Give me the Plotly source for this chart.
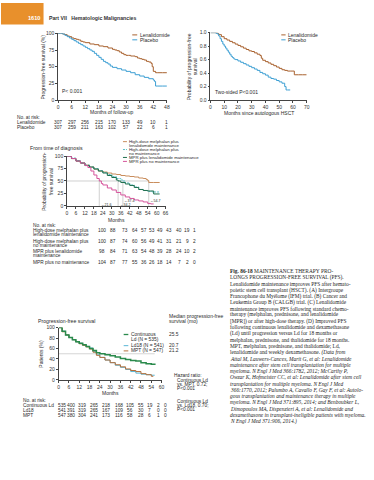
import plotly.graph_objects as go

W, H = 374, 480
SANS = "Liberation Sans, Arial, sans-serif"
SERIF = "Liberation Serif, Times New Roman, serif"

# ---------------- data ----------------
# Panel A (IFM trial) – months vs % progression-free
A_LEN_T = [0, 1, 2, 3, 4, 5, 6, 7, 8, 9, 10, 11, 12, 14, 16, 18, 20, 22, 24, 25, 26, 27, 28, 29, 30, 31, 32, 33, 34, 35, 36, 37, 38, 39, 40, 41, 41.5, 42, 43, 44, 46, 48]
A_LEN_V = [100, 100, 99, 98, 96, 95, 93, 92, 91, 90, 88, 87, 86, 84, 83, 81, 80, 78, 76, 75, 74, 72, 70, 68, 67, 67, 66, 66, 65, 63, 62, 61, 60, 58, 57, 55, 50, 43, 41, 41, 41, 41]
A_PLA_T = [0, 1, 2, 3, 4, 5, 6, 7, 8, 9, 10, 11, 12, 13, 14, 15, 16, 17, 18, 19, 20, 21, 22, 23, 24, 26, 28, 30, 32, 34, 36, 38, 40, 42, 42.5, 43, 44, 46, 48]
A_PLA_V = [100, 100, 99, 97, 95, 93, 91, 89, 87, 85, 83, 81, 79, 77, 75, 73, 70, 67, 64, 61, 58, 56, 54, 51, 49, 47, 45, 43, 41, 38, 36, 34, 32, 30, 28, 21, 21, 21, 21]
A_RISK_MONTHS = [0, 6, 12, 18, 24, 30, 36, 42, 48]
A_RISK_LEN = ["307", "297", "256", "215", "170", "133", "49", "10", "1"]
A_RISK_PLA = ["307", "259", "211", "163", "102", "57", "22", "6", "1"]

# Panel B (CALGB trial) – months vs probability
B_LEN_T = [0, 2, 4, 5, 6, 8, 10, 12, 14, 16, 18, 20, 22, 24, 26, 28, 30, 32, 34, 36, 37, 38, 40, 42, 44, 46, 48, 50, 52, 54, 56, 58, 60, 61, 64, 67, 70]
B_LEN_V = [1.0, 1.0, 1.0, 0.99, 0.97, 0.94, 0.91, 0.89, 0.87, 0.85, 0.83, 0.81, 0.79, 0.77, 0.75, 0.73, 0.72, 0.70, 0.68, 0.66, 0.62, 0.59, 0.57, 0.55, 0.53, 0.51, 0.49, 0.47, 0.45, 0.44, 0.43, 0.43, 0.43, 0.375, 0.375, 0.375, 0.375]
B_PLA_T = [0, 2, 4, 5, 6, 7, 8, 9, 10, 11, 12, 13, 14, 15, 16, 17, 18, 20, 22, 24, 26, 28, 30, 32, 34, 36, 38, 40, 42, 44, 46, 48, 50, 52, 54, 55, 56, 58]
B_PLA_V = [1.0, 1.0, 0.99, 0.98, 0.95, 0.91, 0.87, 0.83, 0.80, 0.77, 0.74, 0.71, 0.68, 0.65, 0.63, 0.61, 0.60, 0.58, 0.56, 0.54, 0.52, 0.50, 0.48, 0.46, 0.44, 0.41, 0.39, 0.37, 0.34, 0.32, 0.31, 0.29, 0.27, 0.25, 0.20, 0.15, 0.15, 0.15]

# Panel C (from time of diagnosis)
C_HDR_T = [0, 3, 6, 9, 12, 15, 18, 21, 24, 27, 30, 33, 36, 39, 42, 45, 48, 51, 53, 54, 54.7, 58, 62]
C_HDR_V = [100, 95, 90, 86, 82, 78, 74, 70, 68, 66, 64, 63, 61, 60, 59, 58, 56, 55, 53, 51, 47, 47, 47]
C_HDN_T = [0, 3, 6, 9, 12, 15, 18, 21, 24, 27, 30, 33, 36, 37.4, 39, 42, 45, 48, 51, 54, 57, 60, 62]
C_HDN_V = [100, 96, 91, 86, 82, 78, 75, 71, 67, 63, 59, 55, 52, 50, 46, 42, 38, 33, 31, 29, 28, 28, 28]
C_MPRR_T = [0, 3, 6, 9, 12, 15, 18, 21, 24, 27, 30, 33, 34.2, 36, 39, 42, 45, 48, 51, 54, 56, 58, 62]
C_MPRR_V = [100, 95, 90, 86, 81, 78, 74, 70, 66, 61, 57, 52, 50, 47, 44, 41, 37, 33, 31, 30, 30, 24, 24]
C_MPRN_T = [0, 3, 6, 9, 12, 14, 16, 18, 20, 21.6, 23, 24, 27, 30, 33, 36, 39, 42, 45, 48, 51, 54, 56, 58]
C_MPRN_V = [100, 95, 90, 86, 81, 77, 70, 62, 55, 50, 45, 42, 36, 32, 27, 22, 18, 15, 12, 10, 8, 5, 4, 4]
C_MEDIANS = [54.7, 37.4, 34.2, 21.6]
C_MEDIAN_LABELS = ["←54.7", "←37.4", "←34.2", "←21.6"]
C_MEDIAN_LABEL_Y = [10, 10, 2, 2]
C_RISK_HDR = ["100", "88", "73", "64", "57", "53", "49", "43", "40", "19", "1"]
C_RISK_HDN = ["100", "87", "74", "60", "56", "49", "41", "31", "21", "9", "2"]
C_RISK_MPRR = ["98", "84", "71", "63", "54", "48", "39", "28", "24", "10", "2"]
C_RISK_MPRN = ["104", "87", "77", "55", "36", "26", "18", "14", "7", "2", "0"]

# Panel D (FIRST trial)
D_CLD_T = [0, 2, 4, 6, 8, 10, 12, 14, 16, 18, 20, 22, 24, 27, 30, 33, 36, 39, 42, 45, 48, 51, 54, 56.5]
D_CLD_V = [100, 93, 86, 81, 77, 73, 70, 67, 64, 60, 56, 52, 50, 48, 46, 44, 41, 39, 37, 36, 33, 31, 30, 30]
D_LD18_T = [0, 2, 4, 6, 8, 10, 12, 14, 16, 18, 20, 22, 24, 27, 30, 33, 36, 39, 42, 45, 48, 51, 54, 56]
D_LD18_V = [100, 93, 86, 81, 77, 73, 70, 67, 64, 61, 54, 48, 43, 38, 33, 28, 24, 20, 16, 13, 11, 10, 9, 9]
D_MPT_T = [0, 2, 4, 6, 8, 10, 12, 14, 16, 18, 20, 22, 24, 27, 30, 33, 36, 39, 42, 45, 48, 51, 54, 55]
D_MPT_V = [100, 92, 86, 81, 77, 73, 69, 66, 63, 59, 53, 47, 43, 38, 33, 29, 25, 21, 18, 16, 12, 10, 7, 6]
D_REF_LEVEL = 50
D_REF_END = 56
D_RISK_CLD = ["535", "400", "319", "265", "218", "168", "105", "55", "19", "2", "0"]
D_RISK_LD18 = ["541", "391", "319", "265", "167", "109", "56", "30", "7", "0", "0"]
D_RISK_MPT = ["547", "380", "304", "241", "173", "116", "58", "28", "6", "1", "0"]
D_MEDIANS = ["25.5", "20.7", "21.2"]

CAPTION = [
    "<b>Fig. 86-18</b> MAINTENANCE THERAPY PRO-",
    "LONGS PROGRESSION-FREE SURVIVAL (PFS).",
    "Lenalidomide maintenance improves PFS after hemato-",
    "poietic stem cell transplant (HSCT). (A) Intergroupe",
    "Francophone du Myélome (IFM) trial. (B) Cancer and",
    "Leukemia Group B (CALGB) trial. (C) Lenalidomide",
    "maintenance improves PFS following standard chemo-",
    "therapy (melphalan, prednisone, and lenalidomide",
    "[MPR]) or after high-dose therapy. (D) Improved PFS",
    "following continuous lenalidomide and dexamethasone",
    "(Ld) until progression versus Ld for 18 months or",
    "melphalan, prednisone, and thalidomide for 18 months.",
    "MPT, melphalan, prednisone, and thalidomide; Ld,",
    "lenalidomide and weekly dexamethasone. <i>(Data from</i>",
    "<i>Attal M, Lauwers-Cances, Marit G, et al: Lenalidomide</i>",
    "<i>maintenance after stem cell transplantation for multiple</i>",
    "<i>myeloma. N Engl J Med 366:1782, 2012; McCarthy P,</i>",
    "<i>Owzar K, Hofmeister CC, et al: Lenalidomide after stem cell</i>",
    "<i>transplantation for multiple myeloma. N Engl J Med</i>",
    "<i>366:1770, 2012; Palumbo A, Cavallo F, Gay F, et al: Autolo-</i>",
    "<i>gous transplantation and maintenance therapy in multiple</i>",
    "<i>myeloma. N Engl J Med 371:895, 2014; and Benboubker L,</i>",
    "<i>Dimopoulos MA, Dispenzieri A, et al: Lenalidomide and</i>",
    "<i>dexamethasone in transplant-ineligible patients with myeloma.</i>",
    "<i>N Engl J Med 371:906, 2014.)</i>",
]

# ---------------- styles / layout constants ----------------
BROWN = "#a8612e"
BLUE = "#3d9fd3"
C_BROWN = "#c98d5c"
C_TEAL = "#5cbfc6"
C_GREEN = "#1f6f4e"
C_PINK = "#d5549b"
D_GREEN = "#2a8a4c"
D_BLUE = "#5ab6d6"
D_BROWN = "#b66f3b"
TXT = "#2a2a2a"


def px(x):
    return x / W


def py(y):
    return 1 - y / H


fig = go.Figure()
ann = []
shapes = []


def txt(x, y, s, size=5, anchor="left", color=TXT, family=SANS, angle=0):
    ann.append(dict(x=px(x), y=py(y), xref="paper", yref="paper", text=s, showarrow=False,
                    xanchor=anchor, yanchor="middle", textangle=angle, borderpad=0,
                    font=dict(size=size, color=color, family=family)))


def leg_line(x0, x1, y, color, dash="solid", width=1):
    shapes.append(dict(type="line", xref="paper", yref="paper", x0=px(x0), x1=px(x1),
                       y0=py(y), y1=py(y), line=dict(color=color, width=width, dash=dash)))


def step(t, v, color, xa, ya, width=1, dash="solid"):
    fig.add_trace(go.Scatter(x=t, y=v, mode="lines", line=dict(color=color, width=width, dash=dash, shape="hv"),
                             xaxis=xa, yaxis=ya, showlegend=False, hoverinfo="skip"))


# ---------------- header ----------------
shapes.append(dict(type="rect", xref="paper", yref="paper", x0=px(0), x1=px(43), y0=py(21.7), y1=py(0),
                   fillcolor="#e8902c", line=dict(width=0)))
txt(33, 15.3, "<b>1610</b>", size=5.6, anchor="center", color="white")
txt(48, 15.3, "<b>Part VII   Hematologic Malignancies</b>", size=5.2, color="#333")

# ---------------- panel A ----------------
step(A_LEN_T, A_LEN_V, BROWN, "x", "y")
step(A_PLA_T, A_PLA_V, BLUE, "x", "y")
txt(42.3, 64.5, "Progression-free survival (%)", size=5, anchor="center", angle=-90)
txt(112.7, 110.8, "Months of follow-up", size=5, anchor="center")
txt(61, 89.3, "P< 0.001", size=5)
leg_line(132.7, 137.7, 32.3, BROWN)
leg_line(132.7, 137.7, 37.3, BLUE)
txt(139.3, 32.3, "Lenalidomide", size=5)
txt(139.3, 37.3, "Placebo", size=5)
txt(15, 116.3, "No. at risk:", size=4.8)
txt(15, 121.5, "Lenalidomide", size=4.8)
txt(15, 126.5, "Placebo", size=4.8)
for m, a, b in zip(A_RISK_MONTHS, A_RISK_LEN, A_RISK_PLA):
    for yy, s in ((121.5, a), (126.5, b)):
        ann.append(dict(x=m, y=py(yy), xref="x", yref="paper", text=s, showarrow=False, borderpad=0,
                        xanchor="center", yanchor="middle", font=dict(size=4.8, color=TXT, family=SANS)))

# ---------------- panel B ----------------
step(B_LEN_T, B_LEN_V, BROWN, "x2", "y2")
step(B_PLA_T, B_PLA_V, BLUE, "x2", "y2")
txt(193, 64, "Probability of progression-free<br>survival", size=5, anchor="center", angle=-90)
txt(261, 111, "Months since autologous HSCT", size=5, anchor="center")
txt(215, 90, "Two-sided P<0.001", size=5)
leg_line(283.3, 287.7, 32.3, BROWN)
leg_line(283.3, 287.7, 37.3, BLUE)
txt(289, 32.3, "Lenalidomide", size=5)
txt(289, 37.3, "Placebo", size=5)

# ---------------- panel C ----------------
top_med = max(C_MEDIANS)
fig.add_trace(go.Scatter(x=[0, top_med], y=[50, 50], mode="lines", line=dict(color="#b0b0b0", width=0.6),
                         xaxis="x3", yaxis="y3", showlegend=False, hoverinfo="skip"))
for m in C_MEDIANS:
    fig.add_trace(go.Scatter(x=[m, m], y=[0, 50], mode="lines", line=dict(color="#b0b0b0", width=0.6),
                             xaxis="x3", yaxis="y3", showlegend=False, hoverinfo="skip"))
step(C_HDR_T, C_HDR_V, C_BROWN, "x3", "y3")
step(C_HDN_T, C_HDN_V, C_TEAL, "x3", "y3", dash="2px,1px")
step(C_MPRR_T, C_MPRR_V, C_GREEN, "x3", "y3")
step(C_MPRN_T, C_MPRN_V, C_PINK, "x3", "y3")
for m, lab, ly in zip(C_MEDIANS, C_MEDIAN_LABELS, C_MEDIAN_LABEL_Y):
    ann.append(dict(x=m, y=ly, xref="x3", yref="y3", text=lab, showarrow=False, xanchor="left", borderpad=0,
                    yanchor="middle", xshift=0.5, font=dict(size=3.6, color=TXT, family=SANS)))
txt(28, 147, "From time of diagnosis", size=5.2)
txt(47, 180.5, "Probability of progression-<br>free survival", size=5, anchor="center", angle=-90)
txt(116.5, 219.8, "Months", size=5, anchor="center")
c_leg = [(140.4, "High-dose melphalan plus", C_BROWN, "solid"),
         (144.4, "lenalidomide maintenance", None, None),
         (148.4, "High-dose melphalan plus", C_TEAL, "2px,1px"),
         (152.4, "no maintenance", None, None),
         (156.4, "MPR plus lenalidomide maintenance", C_GREEN, "solid"),
         (160.4, "MPR plus no maintenance", C_PINK, "solid")]
for yy, s, col, dsh in c_leg:
    if col:
        leg_line(123.3, 127.3, yy, col, dsh)
    txt(128.5, yy, s, size=4.3)
txt(31.7, 225.5, "No. at risk:", size=4.8)
c_rows = [(230.8, 234.9, "High-dose melphalan plus", "lenalidomide maintenance", C_RISK_HDR),
          (241.2, 245.3, "High-dose melphalan plus", "no maintenance", C_RISK_HDN),
          (251.7, 255.8, "MPR plus lenalidomide", "maintenance", C_RISK_MPRR),
          (262.4, None, "MPR plus no maintenance", None, C_RISK_MPRN)]
C_COL_X = [101.7, 113.3, 125, 135, 144.2, 152.7, 160.3, 170, 180, 188.3, 195.5]
for y1, y2, l1, l2, vals in c_rows:
    txt(31.7, y1, l1, size=4.8)
    if l2:
        txt(31.7, y2, l2, size=4.8)
    for cx, s in zip(C_COL_X, vals):
        txt(cx, y1, s, size=4.8, anchor="center")

# ---------------- panel D ----------------
fig.add_trace(go.Scatter(x=[0, D_REF_END], y=[D_REF_LEVEL, D_REF_LEVEL], mode="lines",
                         line=dict(color="#c4c4c4", width=0.7), xaxis="x4", yaxis="y4",
                         showlegend=False, hoverinfo="skip"))
step(D_LD18_T, D_LD18_V, D_BLUE, "x4", "y4")
step(D_MPT_T, D_MPT_V, D_BROWN, "x4", "y4")
step(D_CLD_T, D_CLD_V, D_GREEN, "x4", "y4", width=1.5)
txt(36.7, 321.7, "Progression-free survival", size=5.2)
txt(168.3, 317.2, "Median progression-free", size=5)
txt(168.3, 322.4, "survival (mo)", size=5)
txt(40, 355.5, "Patients (%)", size=5, anchor="center", angle=-90)
txt(110.3, 394.5, "Months", size=5, anchor="center")
leg_line(124, 128.7, 335.7, D_GREEN, width=1.3)
leg_line(124, 128.7, 347, D_BLUE)
leg_line(124, 128.7, 352.3, D_BROWN)
txt(130, 335.7, "Continuous", size=4.9)
txt(130, 341, "Ld (N = 535)", size=4.9)
txt(130, 347, "Ld18 (N = 541)", size=4.9)
txt(130, 352.3, "MPT (N = 547)", size=4.9)
for yy, s in zip([335.7, 347, 352.3], D_MEDIANS):
    txt(168.3, yy, s, size=4.9)
txt(174, 377.5, "Hazard ratio:", size=4.8)
for yy, s in zip([382, 386.3, 390.6, 403.3, 407.7, 412.1],
                 ["Continuous Ld", "vs. MPT, 0.72;", "P<0.001", "Continuous Ld", "vs. Ld18, 0.70;", "P<0.001"]):
    txt(176.7, yy, s, size=4.8)
txt(21.7, 402.3, "No. at risk:", size=4.8)
D_COL_X = [62, 71, 81.5, 94.5, 106, 119.5, 130.5, 141.7, 150.5, 158.7, 166.3]
for yy, lab, vals in [(407.7, "Continuous Ld", D_RISK_CLD), (412.8, "Ld18", D_RISK_LD18), (417.9, "MPT", D_RISK_MPT)]:
    txt(21.7, yy, lab, size=4.8)
    for cx, s in zip(D_COL_X, vals):
        txt(cx, yy, s, size=4.8, anchor="center")

# ---------------- caption ----------------
cap_y0, cap_dy = 271.7, 6.32
for i, line in enumerate(CAPTION):
    txt(230, cap_y0 + i * cap_dy, line, size=5.4, family=SERIF, color="#1e1e1e")

# ---------------- axes ----------------
def axis(domain, rng, dtick, tickformat=None):
    d = dict(domain=domain, range=rng, showline=True, linecolor="#444", linewidth=0.6,
             ticks="outside", ticklen=2, tickwidth=0.6, tickcolor="#444", showgrid=False, zeroline=False,
             tickfont=dict(size=5, family=SANS, color="#333"), fixedrange=True, dtick=dtick, tick0=0)
    if tickformat:
        d["tickformat"] = tickformat
    return d


def xdom(a, b):
    return [px(a), px(b)]


def ydom(top, bottom):
    return [py(bottom), py(top)]


fig.update_layout(
    width=W, height=H, margin=dict(l=0, r=0, t=0, b=0),
    paper_bgcolor="white", plot_bgcolor="white", showlegend=False,
    xaxis=dict(**axis(xdom(57.7, 167.7), [0, 48], 6), anchor="y"),
    yaxis=dict(**axis(ydom(30.7, 98.3), [0, 100], 25), anchor="x"),
    xaxis2=dict(**axis(xdom(211.7, 309), [0, 70], 10), anchor="y2"),
    yaxis2=dict(**axis(ydom(30, 98.3), [0, 1], 0.2, tickformat=".1f"), anchor="x2"),
    xaxis3=dict(**axis(xdom(66.7, 166.4), [0, 66], 6), anchor="y3"),
    yaxis3=dict(**axis(ydom(155, 205.5), [0, 100], 25), anchor="x3"),
    xaxis4=dict(**axis(xdom(58.3, 162.3), [0, 60], 6), anchor="y4"),
    yaxis4=dict(**axis(ydom(328.7, 381.7), [0, 100], 20), anchor="x4"),
    annotations=ann, shapes=shapes,
)

fig.write_html("out.html", config={"displayModeBar": False},
               post_script="document.body.style.margin='0';document.documentElement.style.overflow='hidden';")
